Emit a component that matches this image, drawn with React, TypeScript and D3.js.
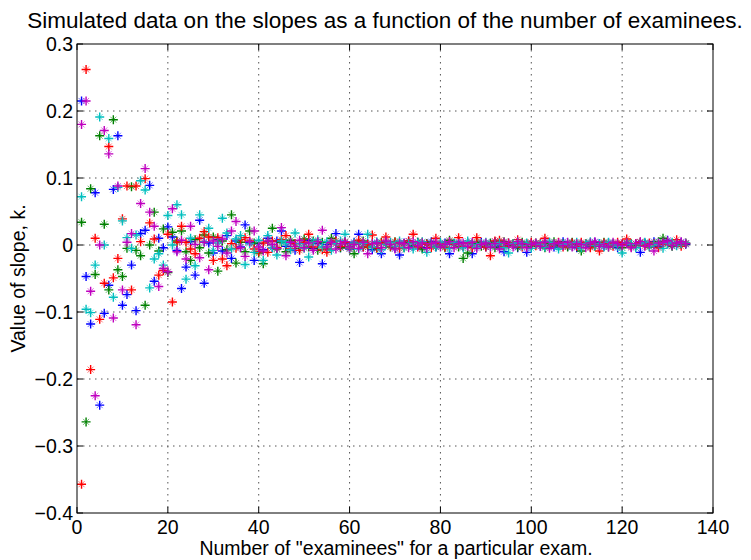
import React from "react";
import * as d3 from "d3";

// x: number of examinees (1..134)
const blue = [
  0.215, -0.047, -0.118, 0.078, -0.239, -0.102, -0.06, 0.083, 0.163, -0.09,
  -0.074, -0.03, -0.098, 0.017, 0.022, 0.089, -0.054, 0.01, -0.004, 0.027,
  0.012, -0.008, -0.065, -0.033, 0.005, -0.045, 0.037, -0.057, 0.003, -0.012,
  0.008, -0.009, 0.014, -0.02, 0.006, -0.003, 0.03, 0.004, -0.023, 0.002,
  -0.007, 0.01, -0.004, 0.006, 0.021, -0.002, 0.004, -0.008, -0.026, 0.003,
  0.007, -0.005, 0.002, -0.028, 0.001, 0.005, 0.017, -0.004, 0.003, -0.006,
  0.004, 0.016, -0.003, 0.002, -0.007, 0.003, -0.013, 0.004, 0.001, -0.005,
  -0.015, 0.003, 0.006, -0.002, 0.004, -0.004, 0.002, 0.005, -0.003, 0.001,
  0.003, -0.013, 0.002, 0.004, -0.002, 0.003, -0.013, 0.001, 0.004, -0.003,
  0.002, 0.005, -0.002, -0.01, 0.003, 0.001, -0.004, 0.002, -0.011, 0.003,
  0.001, -0.002, 0.004, 0.002, -0.003, 0.001, 0.005, -0.002, 0.003, -0.004,
  0.002, 0.001, -0.003, 0.004, 0.002, -0.002, 0.003, 0.001, -0.004, 0.002,
  0.003, -0.001, 0.002, -0.011, 0.003, 0.001, 0.005, -0.002, 0.003, 0.007,
  -0.001, 0.002, 0.004, 0.001,
];
const green = [
  0.034, -0.264, 0.084, -0.044, 0.163, 0.031, -0.067, 0.187, -0.037, -0.047,
  -0.005, 0.087, -0.008, -0.016, -0.09, 0.0, 0.049, -0.009, 0.024, -0.041,
  0.019, 0.006, 0.021, -0.01, -0.023, 0.008, -0.004, 0.015, -0.012, 0.012,
  -0.039, 0.006, -0.007, 0.045, -0.027, 0.004, -0.01, 0.021, 0.003, -0.012,
  -0.028, 0.005, 0.025, -0.006, 0.004, -0.01, 0.007, 0.002, -0.005, 0.009,
  -0.003, 0.006, -0.008, 0.004, -0.006, 0.01, 0.002, -0.004, 0.005, -0.002,
  -0.013, 0.003, 0.006, -0.003, 0.002, -0.005, 0.004, 0.001, -0.003, 0.005,
  0.002, -0.004, 0.003, -0.001, 0.004, -0.006, 0.002, 0.003, -0.002, 0.001,
  -0.004, 0.007, 0.002, -0.003, -0.02, -0.012, 0.002, 0.004, -0.002, 0.001,
  0.003, -0.004, 0.002, 0.005, -0.001, 0.002, -0.003, 0.004, 0.001, -0.002,
  0.003, 0.001, -0.004, 0.002, 0.005, -0.001, 0.002, -0.003, 0.004, 0.001,
  -0.009, 0.002, 0.003, -0.002, 0.001, 0.004, -0.003, 0.002, 0.001, -0.004,
  0.003, 0.002, -0.001, 0.004, 0.002, -0.003, 0.001, 0.005, 0.01, 0.002,
  -0.002, 0.003, 0.001, 0.002,
];
const red = [
  -0.357, 0.262, -0.186, 0.01, -0.111, -0.057, 0.147, -0.049, -0.02, 0.039,
  0.088, -0.067, 0.088, 0.005, 0.099, 0.033, 0.009, -0.045, -0.038, 0.016,
  -0.085, 0.004, 0.028, 0.004, -0.006, -0.013, 0.01, 0.02, 0.012, -0.023,
  0.011, -0.021, -0.031, 0.002, -0.005, 0.008, 0.011, 0.006, -0.006, -0.01,
  0.003, -0.011, 0.006, -0.004, 0.008, 0.014, -0.006, 0.002, -0.008, 0.004,
  0.016, -0.003, 0.005, -0.007, -0.011, 0.003, 0.006, -0.002, 0.004, -0.005,
  0.002, 0.007, -0.003, 0.001, 0.015, -0.004, 0.003, 0.012, -0.002, 0.004,
  -0.005, 0.002, 0.006, 0.016, -0.003, 0.004, 0.001, -0.004, 0.01, 0.002,
  -0.003, 0.005, 0.001, 0.011, -0.002, 0.003, -0.004, 0.011, 0.002, -0.003,
  -0.016, 0.006, 0.007, -0.002, 0.003, 0.001, 0.008, -0.003, 0.002, 0.004,
  -0.001, 0.003, 0.01, -0.002, 0.002, 0.004, -0.003, 0.001, 0.003, -0.002,
  0.004, 0.002, -0.004, 0.001, -0.009, 0.003, 0.002, -0.002, 0.004, 0.001,
  0.009, -0.003, 0.002, 0.004, -0.001, 0.003, 0.002, -0.004, 0.001, 0.003,
  0.002, 0.008, -0.002, 0.003,
];
const cyan = [
  0.072, -0.096, -0.101, -0.03, 0.191, 0.0, 0.159, -0.078, 0.086, 0.036,
  0.011, -0.005, 0.015, 0.096, 0.082, -0.064, -0.021, -0.013, -0.03, 0.044,
  0.0, 0.06, 0.045, -0.051, 0.01, -0.031, 0.045, 0.005, 0.025, -0.008,
  0.003, 0.04, 0.018, -0.006, 0.009, 0.014, -0.029, 0.002, -0.011, 0.007,
  -0.023, 0.014, -0.004, -0.015, 0.006, 0.003, -0.007, 0.018, 0.002, -0.005,
  -0.018, 0.004, 0.008, -0.003, 0.005, -0.008, 0.002, 0.006, 0.016, -0.004,
  0.003, -0.006, 0.002, 0.016, -0.003, 0.005, -0.007, 0.001, 0.004, -0.002,
  0.006, -0.004, 0.002, -0.006, 0.003, 0.005, -0.011, 0.002, -0.003, 0.004,
  0.001, -0.005, 0.003, 0.002, -0.004, 0.006, 0.001, -0.003, 0.002, 0.004,
  -0.002, 0.001, 0.003, -0.004, -0.012, 0.002, 0.004, -0.001, 0.003, -0.005,
  0.002, 0.001, -0.003, 0.004, 0.002, -0.006, 0.001, 0.003, -0.002, 0.004,
  -0.004, 0.002, 0.005, -0.001, 0.002, -0.003, 0.004, 0.001, -0.002, -0.012,
  0.003, 0.001, -0.004, 0.002, 0.004, -0.002, 0.001, 0.003, -0.005, 0.002,
  0.004, -0.001, 0.002, 0.003,
];
const magenta = [
  0.18, 0.215, -0.069, -0.225, 0.0, 0.171, 0.136, -0.109, 0.088, -0.067,
  0.004, 0.017, -0.119, 0.062, 0.114, 0.049, 0.028, -0.062, -0.035, -0.04,
  0.054, -0.01, 0.007, -0.021, 0.028, 0.001, -0.019, 0.004, -0.037, 0.006,
  -0.002, 0.009, -0.012, 0.021, 0.035, -0.004, -0.017, 0.005, 0.021, -0.003,
  -0.009, 0.006, 0.001, -0.005, 0.026, -0.016, 0.004, -0.002, 0.007, -0.004,
  0.003, -0.008, 0.005, 0.022, -0.003, 0.004, -0.006, 0.002, 0.005, -0.003,
  0.001, -0.005, 0.004, -0.013, 0.002, 0.003, -0.004, 0.006, 0.001, -0.006,
  0.003, 0.002, -0.004, 0.005, -0.001, 0.003, -0.005, 0.002, 0.004, -0.003,
  0.001, 0.005, -0.004, 0.002, 0.003, -0.002, 0.004, -0.005, 0.001, 0.003,
  -0.003, 0.002, -0.006, 0.004, 0.001, -0.003, 0.005, 0.002, -0.004, 0.001,
  0.003, -0.002, 0.004, -0.005, 0.002, 0.003, -0.001, 0.004, -0.003, 0.002,
  0.001, -0.004, 0.003, 0.005, -0.002, 0.001, -0.003, 0.004, 0.002, -0.001,
  0.003, -0.004, 0.002, 0.005, -0.002, 0.001, -0.009, 0.003, 0.004, 0.006,
  -0.001, 0.003, 0.005, 0.002,
];

const seriesList = [
  { name: "blue", values: blue, color: "#0000ff" },
  { name: "green", values: green, color: "#008000" },
  { name: "red", values: red, color: "#ff0000" },
  { name: "cyan", values: cyan, color: "#00bfbf" },
  { name: "magenta", values: magenta, color: "#bf00bf" },
];

const xTicks = [0, 20, 40, 60, 80, 100, 120, 140];
const yTicks = [-0.4, -0.3, -0.2, -0.1, 0, 0.1, 0.2, 0.3];
const titleText = "Simulated data on the slopes as a function of the number of examinees.";
const xLabelText = 'Number of "examinees" for a particular exam.';
const yLabelText = "Value of slope, k.";

const W = 751;
const H = 560;
const L = 77;
const R = 713;
const T = 44;
const B = 513;
const FONT = "'Liberation Sans', Arial, Helvetica, sans-serif";

export default function App() {
  const x = d3.scaleLinear().domain([0, 140]).range([L, R]);
  const y = d3.scaleLinear().domain([-0.4, 0.3]).range([B, T]);
  const tick = 6;
  const r = 4.5;
  const d = 3;

  const plusPath = (vals: number[]) =>
    vals
      .map((v, i) => {
        const px = x(i + 1);
        const py = y(v);
        return `M${px - r},${py}h${2 * r}M${px},${py - r}v${2 * r}`;
      })
      .join("");
  const crossPath = (vals: number[]) =>
    vals
      .map((v, i) => {
        const px = x(i + 1);
        const py = y(v);
        return `M${px - d},${py - d}l${2 * d},${2 * d}M${px - d},${py + d}l${2 * d},${-2 * d}`;
      })
      .join("");

  const fmtY = (v: number) => (v === 0 ? "0" : (v < 0 ? "\u2212" : "") + Math.abs(v).toFixed(1));

  return (
    <svg
      width={W}
      height={H}
      style={{ position: "absolute", left: 0, top: 0, background: "#fff" }}
      fontFamily={FONT}
    >
      <rect x={0} y={0} width={W} height={H} fill="#fff" />
      {/* grid */}
      <g stroke="#555" strokeWidth={1} strokeDasharray="1.5,4.5">
        {xTicks.slice(1, -1).map((t) => (
          <line key={"gx" + t} x1={x(t)} x2={x(t)} y1={T} y2={B} />
        ))}
        {yTicks.slice(1, -1).map((t) => (
          <line key={"gy" + t} x1={L} x2={R} y1={y(t)} y2={y(t)} />
        ))}
      </g>
      {/* markers */}
      <g fill="none">
        {seriesList.map((s) => (
          <g key={s.name} stroke={s.color}>
            <path d={crossPath(s.values)} strokeWidth={1} strokeOpacity={0.55} />
            <path d={plusPath(s.values)} strokeWidth={1.4} />
          </g>
        ))}
      </g>
      {/* axes box and ticks */}
      <g stroke="#000" strokeWidth={1} fill="none">
        <rect x={L} y={T} width={R - L} height={B - T} />
        {xTicks.map((t) => (
          <g key={"tx" + t}>
            <line x1={x(t)} x2={x(t)} y1={B} y2={B - tick} />
            <line x1={x(t)} x2={x(t)} y1={T} y2={T + tick} />
          </g>
        ))}
        {yTicks.map((t) => (
          <g key={"ty" + t}>
            <line x1={L} x2={L + tick} y1={y(t)} y2={y(t)} />
            <line x1={R} x2={R - tick} y1={y(t)} y2={y(t)} />
          </g>
        ))}
      </g>
      {/* tick labels */}
      <g fontSize={19.5} fill="#000">
        {xTicks.map((t) => (
          <text key={"lx" + t} x={x(t)} y={B + 21} textAnchor="middle">
            {t}
          </text>
        ))}
        {yTicks.map((t) => (
          <text key={"ly" + t} x={L - 4} y={y(t) + 7} textAnchor="end">
            {fmtY(t)}
          </text>
        ))}
      </g>
      <text x={385} y={28} fontSize={22.5} textAnchor="middle" fill="#000">
        {titleText}
      </text>
      <text x={396} y={555} fontSize={19.5} textAnchor="middle" fill="#000">
        {xLabelText}
      </text>
      <text
        transform={`translate(25,${(T + B) / 2}) rotate(-90)`}
        fontSize={19.5}
        textAnchor="middle"
        fill="#000"
      >
        {yLabelText}
      </text>
    </svg>
  );
}
